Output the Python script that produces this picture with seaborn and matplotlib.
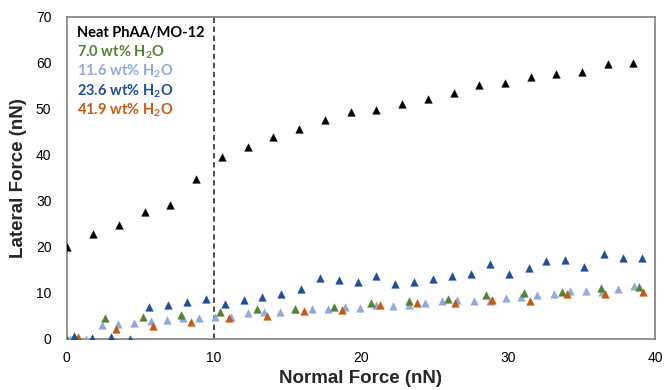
"""
Lateral vs normal force for PhAA/MO-12 at different water contents
"""

import matplotlib
matplotlib.use("Agg")
import matplotlib.pyplot as plt
import seaborn as sns
import pandas as pd
import numpy as np

# --- data ---
neat_x = [0.0, 1.8, 3.55, 5.3, 7.05, 8.8, 10.55, 12.3, 14.05, 15.8, 17.55,
          19.3, 21.05, 22.8, 24.55, 26.3, 28.05, 29.8, 31.55, 33.3, 35.05,
          36.8, 38.5]
neat_y = [20.0, 22.9, 24.7, 27.5, 29.1, 34.8, 39.5, 41.8, 43.9, 45.7, 47.5,
          49.2, 49.8, 51.0, 52.1, 53.5, 55.2, 55.6, 57.0, 57.5, 57.9, 59.7,
          60.0]

w70_x = [0.0, 2.63, 5.2, 7.8, 10.4, 12.97, 15.55, 18.15, 20.7, 23.3, 25.9,
         28.5, 31.1, 33.7, 36.3, 38.9]
w70_y = [0.0, 4.6, 4.7, 5.1, 5.8, 6.5, 6.5, 6.9, 7.7, 8.2, 8.7, 9.6, 10.0,
         10.2, 11.1, 11.2]

w116_x = [0.2, 1.3, 2.4, 3.5, 4.6, 5.7, 6.8, 7.9, 9.0, 10.06, 11.2, 12.3,
          13.4, 14.5, 15.55, 16.7, 17.8, 18.9, 19.97, 21.05, 22.2, 23.26,
          24.35, 25.5, 26.55, 27.7, 28.75, 29.85, 30.9, 32.0, 33.1, 34.2,
          35.3, 36.4, 37.5, 38.6]
w116_y = [0.0, 0.0, 3.0, 3.2, 3.5, 3.9, 4.1, 4.5, 4.5, 4.7, 4.8, 5.7, 5.8,
          5.9, 6.6, 6.6, 6.5, 6.9, 6.8, 7.3, 7.1, 7.3, 7.8, 8.3, 8.4, 8.2,
          8.3, 8.8, 9.1, 9.5, 9.8, 10.4, 10.5, 10.2, 10.8, 11.6]

w236_x = [0.48, 1.75, 3.04, 4.3, 5.6, 6.9, 8.17, 9.46, 10.75, 12.03, 13.3,
          14.6, 15.9, 17.2, 18.5, 19.8, 21.05, 22.35, 23.6, 24.9, 26.2, 27.5,
          28.8, 30.07, 31.4, 32.6, 33.9, 35.2, 36.5, 37.8, 39.1]
w236_y = [0.65, 0.15, 0.4, 0.0, 6.9, 7.4, 8.1, 8.6, 7.6, 8.5, 9.1, 9.8, 10.8,
          13.3, 12.9, 12.3, 13.7, 11.9, 12.4, 13.0, 13.6, 14.0, 16.3, 14.1,
          15.4, 16.9, 17.1, 15.6, 18.5, 17.5, 17.6]

w419_x = [0.77, 3.34, 5.9, 8.45, 11.04, 13.6, 16.15, 18.7, 21.3, 23.85, 26.4,
          28.9, 31.5, 34.05, 36.6, 39.2]
w419_y = [0.35, 2.2, 2.9, 3.7, 4.5, 5.0, 6.1, 6.3, 7.3, 7.9, 7.9, 8.4, 8.3,
          9.7, 9.8, 10.2]

series_names = ["Neat PhAA/MO-12", "7.0 wt% H2O", "11.6 wt% H2O",
                "23.6 wt% H2O", "41.9 wt% H2O"]
legend_labels = ["Neat PhAA/MO-12",
                 r"7.0 wt% H$_\mathbf{2}$O",
                 r"11.6 wt% H$_\mathbf{2}$O",
                 r"23.6 wt% H$_\mathbf{2}$O",
                 r"41.9 wt% H$_\mathbf{2}$O"]
colors = ["#000000", "#548235", "#8FAADC", "#1F4E9A", "#C55A11"]

xs = [neat_x, w70_x, w116_x, w236_x, w419_x]
ys = [neat_y, w70_y, w116_y, w236_y, w419_y]

df = pd.concat([pd.DataFrame({"x": x, "y": y, "series": name})
                for x, y, name in zip(xs, ys, series_names)],
               ignore_index=True)

sns.set_style("white")
plt.rcParams["font.family"] = ["Liberation Sans", "DejaVu Sans"]
plt.rcParams["mathtext.fontset"] = "custom"
plt.rcParams["mathtext.bf"] = "Lato:bold"
plt.rcParams["mathtext.rm"] = "Lato"

fig = plt.figure(figsize=(6.67, 3.9), dpi=100)
ax = fig.add_axes([0.1, 0.131, 0.882, 0.826])

# draw light blue first so the others sit on top like the original
order = [2, 1, 4, 3, 0]
for i in order:
    sub = df[df["series"] == series_names[i]]
    sns.scatterplot(data=sub, x="x", y="y", ax=ax, marker="^", s=30,
                    color=colors[i], edgecolor=colors[i], linewidth=0.3,
                    legend=False, zorder=3)

ax.axvline(10, color="#404040", linestyle=(0, (3, 2)), linewidth=1.3,
           zorder=2)

ax.set_xlim(0, 40)
ax.set_ylim(0, 70)
ax.set_xticks(np.arange(0, 41, 10))
ax.set_yticks(np.arange(0, 71, 10))
ax.tick_params(axis="both", direction="in", length=4, width=1,
               color="#808080", labelsize=10, labelcolor="#000000")
ax.tick_params(axis="x", pad=9)
ax.tick_params(axis="y", pad=11)

for side in ["left", "bottom", "top", "right"]:
    ax.spines[side].set_color("#808080")
    ax.spines[side].set_linewidth(1.2)

ax.set_xlabel("Normal Force (nN)", fontsize=13.5, fontweight="bold",
              labelpad=3)
ax.set_ylabel("Lateral Force (nN)", fontsize=13.5, fontweight="bold",
              labelpad=6)

# coloured text legend
for k, (lab, col) in enumerate(zip(legend_labels, colors)):
    ax.text(0.018, 0.95 - k * 0.06, lab, transform=ax.transAxes,
            color=col, fontsize=10.5, fontweight="bold", family="Lato",
            ha="left", va="center")

fig.savefig("out.png", dpi=100)
